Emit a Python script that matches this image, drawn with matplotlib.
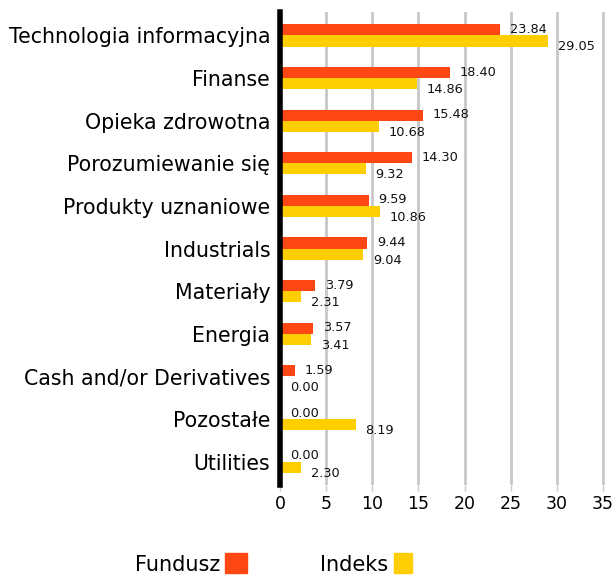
import matplotlib.pyplot as plt
from matplotlib.patches import Rectangle

categories = ['Technologia informacyjna', 'Finanse', 'Opieka zdrowotna', 'Porozumiewanie się',
              'Produkty uznaniowe', 'Industrials', 'Materiały', 'Energia',
              'Cash and/or Derivatives', 'Pozostałe', 'Utilities']
fundusz = [23.84, 18.40, 15.48, 14.30, 9.59, 9.44, 3.79, 3.57, 1.59, 0.00, 0.00]
indeks = [29.05, 14.86, 10.68, 9.32, 10.86, 9.04, 2.31, 3.41, 0.00, 8.19, 2.30]
x_ticks = [0, 5, 10, 15, 20, 25, 30, 35]

RED = '#FF4713'
YELLOW = '#FFCE00'
BAR_H = 0.26

plt.rcParams['font.family'] = ['DejaVu Sans']

fig = plt.figure(figsize=(6.16, 5.79), dpi=100)
ax = fig.add_axes([0.4545, 0.1623, 0.5455, 0.8170])

pos = list(range(len(categories)))
ax.barh([p - BAR_H / 2 for p in pos], fundusz, height=BAR_H, color=RED, zorder=3)
ax.barh([p + BAR_H / 2 for p in pos], indeks, height=BAR_H, color=YELLOW, zorder=3)

for p, v in zip(pos, fundusz):
    ax.annotate('{:.2f}'.format(v), (v, p - 0.14), xytext=(7, 0), textcoords='offset points',
                ha='left', va='center', fontsize=9.3, color='#111111')
for p, v in zip(pos, indeks):
    ax.annotate('{:.2f}'.format(v), (v, p + 0.27), xytext=(7, 0), textcoords='offset points',
                ha='left', va='center', fontsize=9.3, color='#111111')

ax.set_xlim(0, 36.4)
ax.set_ylim(10.55, -0.55)
ax.set_yticks(pos)
ax.set_yticklabels(categories, fontsize=14.8)
ax.set_xticks(x_ticks)
ax.set_xticklabels([str(t) for t in x_ticks], fontsize=12.5)
ax.tick_params(axis='y', length=0, pad=7)
ax.tick_params(axis='x', length=4, color='#c8c8c8', width=1, pad=3)
ax.grid(axis='x', color='#c8c8c8', linewidth=2, zorder=0)
for s in ['top', 'right', 'bottom']:
    ax.spines[s].set_visible(False)
ax.spines['left'].set_linewidth(4)
ax.spines['left'].set_color('black')
ax.spines['left'].set_zorder(4)

# legend: text followed by a colored square
fig.text(220 / 616, 1 - 565 / 579, 'Fundusz', ha='right', va='center', fontsize=15)
fig.patches.append(Rectangle((225 / 616, 1 - 573 / 579), 22 / 616, 20 / 579,
                             transform=fig.transFigure, color=RED, figure=fig))
fig.text(388 / 616, 1 - 565 / 579, 'Indeks', ha='right', va='center', fontsize=15)
fig.patches.append(Rectangle((394 / 616, 1 - 573 / 579), 18 / 616, 20 / 579,
                             transform=fig.transFigure, color=YELLOW, figure=fig))

fig.savefig('out.png', dpi=100)
